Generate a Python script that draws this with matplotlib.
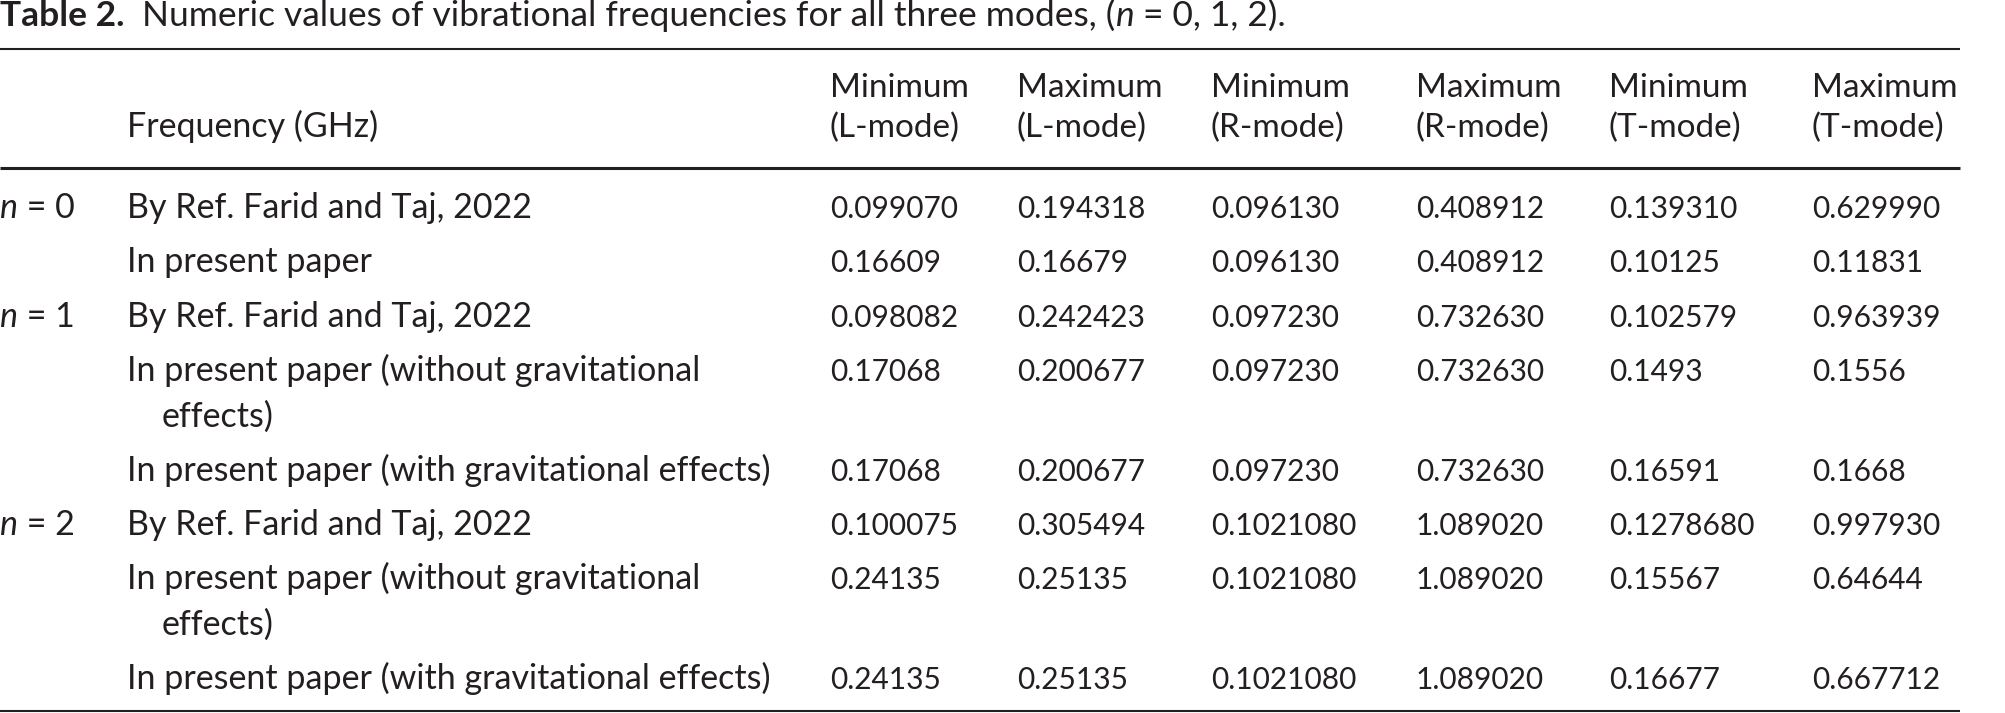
import matplotlib
matplotlib.use("Agg")
import matplotlib.pyplot as plt

plt.rcParams['font.family'] = ['Lato', 'DejaVu Sans']

INK = '#231f20'
FS_TITLE = 25.5
FS_HEAD = 24
FS_TEXT = 24.5
FS_NUM = 21.5

# data of the table
col_heads = [("Minimum", "(L-mode)"), ("Maximum", "(L-mode)"),
             ("Minimum", "(R-mode)"), ("Maximum", "(R-mode)"),
             ("Minimum", "(T-mode)"), ("Maximum", "(T-mode)")]
row_n = ["0", "", "1", "", "", "2", "", ""]
row_desc = ["By Ref. Farid and Taj, 2022",
            "In present paper",
            "By Ref. Farid and Taj, 2022",
            "In present paper (without gravitational\neffects)",
            "In present paper (with gravitational effects)",
            "By Ref. Farid and Taj, 2022",
            "In present paper (without gravitational\neffects)",
            "In present paper (with gravitational effects)"]
min_l = ["0.099070", "0.16609", "0.098082", "0.17068", "0.17068", "0.100075", "0.24135", "0.24135"]
max_l = ["0.194318", "0.16679", "0.242423", "0.200677", "0.200677", "0.305494", "0.25135", "0.25135"]
min_r = ["0.096130", "0.096130", "0.097230", "0.097230", "0.097230", "0.1021080", "0.1021080", "0.1021080"]
max_r = ["0.408912", "0.408912", "0.732630", "0.732630", "0.732630", "1.089020", "1.089020", "1.089020"]
min_t = ["0.139310", "0.10125", "0.102579", "0.1493", "0.16591", "0.1278680", "0.15567", "0.16677"]
max_t = ["0.629990", "0.11831", "0.963939", "0.1556", "0.1668", "0.997930", "0.64644", "0.667712"]
columns = [min_l, max_l, min_r, max_r, min_t, max_t]

fig = plt.figure(figsize=(20.05, 7.13), dpi=100)
ax = fig.add_axes([0, 0, 1, 1])
ax.set_xlim(0, 2005)
ax.set_ylim(713, 0)
ax.axis('off')

def chain(parts, x, y, fs):
    # parts: list of (text, weight, style) placed one after another on a baseline
    prev = None
    for txt, w, st in parts:
        if prev is None:
            prev = ax.text(x, y, txt, fontsize=fs, color=INK, fontweight=w,
                           fontstyle=st, ha='left', va='baseline')
        else:
            prev = ax.annotate(txt, xy=(1, y), xycoords=(prev, 'data'),
                               fontsize=fs, color=INK, fontweight=w,
                               fontstyle=st, ha='left', va='baseline')
    return prev

# title
chain([("Table 2.", 'bold', 'normal'),
       ("  Numeric values of vibrational frequencies for all three modes, (", 'normal', 'normal'),
       ("n", 'normal', 'italic'),
       (" = 0, 1, 2).", 'normal', 'normal')], 0, 26, FS_TITLE)

# rules
ax.plot([0, 1960], [49, 49], color=INK, lw=1.5, solid_capstyle='butt')
ax.plot([0, 1960], [168, 168], color=INK, lw=2.2, solid_capstyle='butt')
ax.plot([0, 1960], [711, 711], color=INK, lw=1.5, solid_capstyle='butt')

# header
col_x = [830, 1017, 1211, 1416, 1609, 1812]
ax.text(127, 137, "Frequency (GHz)", fontsize=FS_TEXT, color=INK, va='baseline')
for cx, (h1, h2) in zip(col_x, col_heads):
    ax.text(cx, 97, h1, fontsize=FS_HEAD, color=INK, va='baseline')
    ax.text(cx, 137, h2, fontsize=FS_HEAD, color=INK, va='baseline')

# body
y = 218
row_step = 54.3
wrap_step = 45.5
for i, desc in enumerate(row_desc):
    if row_n[i]:
        chain([("n", 'normal', 'italic'), (" = " + row_n[i], 'normal', 'normal')], 0, y, FS_TEXT)
    lines = desc.split("\n")
    for j, ln in enumerate(lines):
        ax.text(127 if j == 0 else 162, y + j * wrap_step, ln,
                fontsize=FS_TEXT, color=INK, va='baseline')
    for cx, col in zip(col_x, columns):
        ax.text(cx, y, col[i], fontsize=FS_NUM, color=INK, va='baseline')
    y += row_step + (len(lines) - 1) * wrap_step

fig.savefig("out.png", dpi=100, facecolor='white')
